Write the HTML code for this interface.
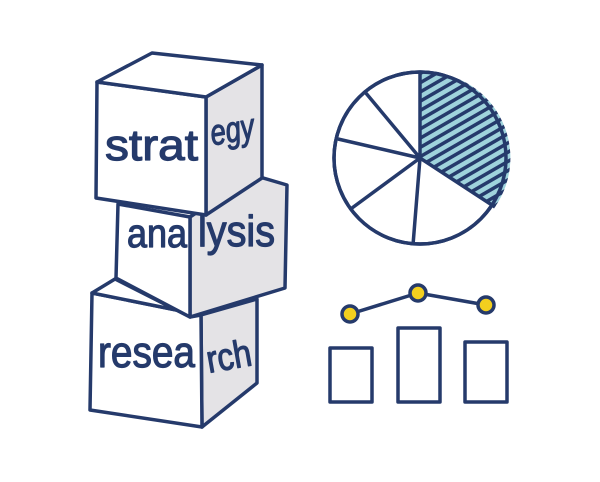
<!DOCTYPE html><html><head><style>body{margin:0;background:#fff}svg{display:block}</style></head><body>
<svg width="600" height="482" viewBox="0 0 600 482" xmlns="http://www.w3.org/2000/svg">
<defs><pattern id="h" patternUnits="userSpaceOnUse" width="8" height="8" patternTransform="rotate(-30)"><rect width="8" height="8" fill="#9fd3dc"/><rect width="8" height="3.5" fill="#253a6b"/></pattern></defs>
<g stroke="#253a6b" stroke-width="3.5" stroke-linejoin="round" font-family="Liberation Sans, sans-serif" fill="#253a6b">
<polygon points="201,315 257,299 257,383 202,427" fill="#e4e3e6"/>
<polygon points="92,293 201,315 202,427 90,410" fill="#fff"/>
<polygon points="92,293 115,279 190,317 201,315" fill="#fff"/>
<polygon points="190,217 253,175 287,185 285,288 190,317" fill="#e4e3e6"/>
<polygon points="118,204 190,217 190,317 116,278" fill="#fff"/>
<polygon points="206,97 262,65 262,178 206,215" fill="#e4e3e6"/>
<polygon points="97,82 206,97 206,215 96,198" fill="#fff"/>
<polygon points="97,82 152,53 262,65 206,97" fill="#fff"/>
<g stroke="#253a6b" stroke-width="1.2">
<text x="105" y="160" font-size="44" textLength="93" lengthAdjust="spacingAndGlyphs">strat</text>
<text x="211" y="142" font-size="36" font-style="italic" textLength="44" lengthAdjust="spacingAndGlyphs" transform="rotate(-10 232 135)">egy</text>
<text x="127" y="247" font-size="40" textLength="60" lengthAdjust="spacingAndGlyphs">ana</text>
<text x="198" y="246" font-size="44" textLength="77" lengthAdjust="spacingAndGlyphs">lysis</text>
<text x="98" y="367" font-size="44" textLength="97" lengthAdjust="spacingAndGlyphs">resea</text>
<text x="207" y="369" font-size="38" textLength="45" lengthAdjust="spacingAndGlyphs" transform="rotate(-10 230 360)">rch</text>
</g>
<circle cx="420" cy="158" r="86" fill="#fff"/>
<path d="M420,158 L420,72 A86,86 0 0 1 495,207 Z" fill="url(#h)" stroke="none"/>
<circle cx="420" cy="158" r="86" fill="none"/>
<path d="M420,158 L420,72 M420,158 L495,207 M420,158 L365,92 M420,158 L338,139 M420,158 L352,208 M420,158 L413,245" fill="none"/>
<polyline points="350,314 418,293 486,305" fill="none"/>
<g fill="#f2cf1e"><circle cx="350" cy="314" r="8"/><circle cx="418" cy="293" r="8"/><circle cx="486" cy="305" r="8"/></g>
<g fill="#fff"><rect x="330" y="348" width="42" height="54"/><rect x="398" y="328" width="42" height="74"/><rect x="465" y="342" width="42" height="60"/></g>
</g></svg></body></html>
